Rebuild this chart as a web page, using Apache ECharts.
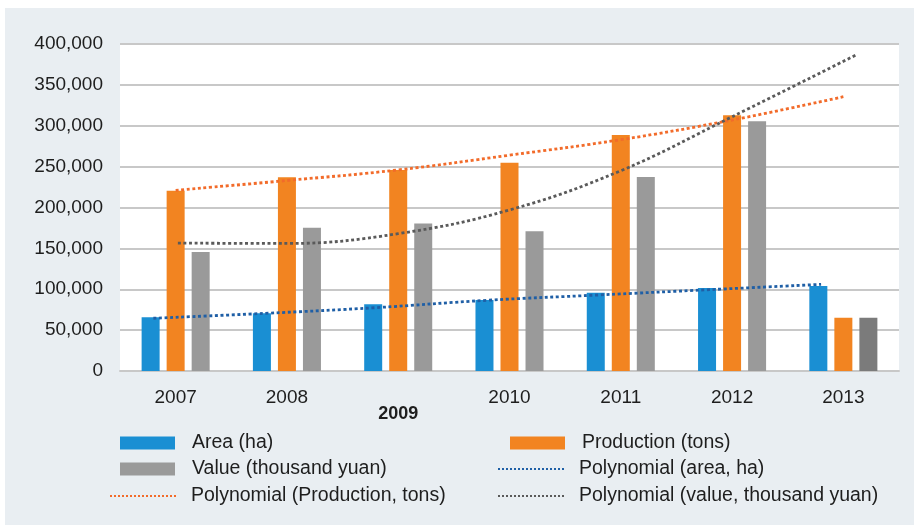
<!DOCTYPE html>
<html>
<head>
<meta charset="utf-8">
<script src="https://cdn.jsdelivr.net/npm/echarts@6/dist/echarts.min.js"></script>
<style>
  html, body { margin: 0; padding: 0; background: #ffffff; }
  #chart { width: 914px; height: 525px; }
</style>
</head>
<body>
<div id="chart"></div>
<script>
// Yearly categories
const years = ['2007', '2008', '2009', '2010', '2011', '2012', '2013'];

// Bar series
const areaHa = [65600, 70500, 81500, 86800, 95800, 101500, 104000];
const productionTons = [220600, 237000, 245900, 254800, 288700, 312800, 65200];
const valueThousandYuan = [145500, 175200, 180500, 170900, 237300, 305400, 65200];

// Polynomial trend lines (x in category index units, y in the same units as the bars)
const areaTrendX = [-0.2, 0.8, 1.8, 2.8, 3.8, 4.8, 5.8];
const areaTrend = [64500, 70500, 77500, 86500, 93000, 99500, 106000];
const productionTrendX = [0, 1, 2, 3, 4, 5, 6];
const productionTrend = [221000, 233000, 246000, 264000, 283000, 307000, 335500];
const valueTrendX = [0.02, 1, 2, 3, 4, 5, 6.12];
const valueTrend = [156500, 156000, 168000, 197000, 245000, 311000, 387000];

// Y-axis ticks
const yTicks = [0, 50000, 100000, 150000, 200000, 250000, 300000, 350000, 400000];

const names = {
  area: 'Area (ha)',
  production: 'Production (tons)',
  value: 'Value (thousand yuan)',
  areaTrend: 'Polynomial (area, ha)',
  productionTrend: 'Polynomial (Production, tons)',
  valueTrend: 'Polynomial (value, thousand yuan)'
};

const FONT = '"Liberation Sans", Arial, Helvetica, sans-serif';
const TEXT = '#1e1e1e';
const zip = (xs, ys) => xs.map((x, i) => [x, ys[i]]);

const dotted = (color) => ({ color: color, width: 2.8, type: [3, 2.6], cap: 'butt' });

// One legend block per entry so each can sit in its own slot
function legendItem(name, left, top, isLine) {
  const item = {
    data: [name],
    left: left,
    top: top,
    padding: 0,
    orient: 'horizontal',
    selectedMode: false,
    itemWidth: isLine ? 66 : 55,
    itemHeight: 13,
    textStyle: { fontFamily: FONT, fontSize: 19.5, color: TEXT, padding: [0, 0, 0, isLine ? 10 : 12] }
  };
  if (isLine) {
    item.itemStyle = { opacity: 0 };
    item.lineStyle = { width: 2, type: [2, 2] };
  } else {
    item.icon = 'rect';
  }
  return item;
}

const chart = echarts.init(document.getElementById('chart'), null, { renderer: 'canvas' });

chart.setOption({
  animation: false,
  backgroundColor: '#ffffff',
  graphic: [{
    type: 'rect', left: 5, top: 8, z: -10,
    shape: { width: 909, height: 517 },
    style: { fill: '#E9EEF2' }
  }],
  grid: {
    left: 120, right: 15, top: 44, bottom: 154,
    show: true, backgroundColor: '#ffffff', borderWidth: 0
  },
  legend: [
    legendItem(names.area, 120, 433, false),
    legendItem(names.value, 120, 459, false),
    legendItem(names.productionTrend, 109, 486, true),
    legendItem(names.production, 510, 433, false),
    legendItem(names.areaTrend, 497, 459, true),
    legendItem(names.valueTrend, 497, 486, true)
  ],
  xAxis: [{
    type: 'category',
    data: years,
    axisLine: { show: true, lineStyle: { color: '#c8c8c8', width: 2 } },
    axisTick: { show: false },
    axisLabel: {
      margin: 17,
      fontFamily: FONT, fontSize: 19, color: TEXT,
      formatter: (v) => v === '2009' ? '{b|' + v + '}' : v,
      rich: { b: { fontFamily: FONT, fontSize: 18, fontWeight: 'bold', color: TEXT, padding: [17, 0, 0, 0] } }
    }
  }, {
    type: 'value', min: -0.5, max: 6.5, show: false
  }],
  yAxis: {
    type: 'value',
    min: yTicks[0],
    max: yTicks[yTicks.length - 1],
    interval: yTicks[1] - yTicks[0],
    axisLine: { show: false },
    axisTick: { show: false },
    splitLine: { lineStyle: { color: '#c8c8c8', width: 2 } },
    axisLabel: {
      margin: 17,
      fontFamily: FONT, fontSize: 19, color: TEXT,
      formatter: (v) => v.toLocaleString('en-US')
    }
  },
  series: [
    {
      name: names.area, type: 'bar', data: areaHa,
      barWidth: 18, barGap: '39%',
      itemStyle: { color: '#1A8FD3' }
    },
    {
      name: names.production, type: 'bar', data: productionTons,
      barWidth: 18, barGap: '39%',
      itemStyle: { color: '#F28421' }
    },
    {
      name: names.value, type: 'bar',
      data: valueThousandYuan.map((v, i) => i === years.length - 1
        ? { value: v, itemStyle: { color: '#7B7B7B' } } : v),
      barWidth: 18, barGap: '39%',
      itemStyle: { color: '#9A9A9A' }
    },
    {
      name: names.areaTrend, type: 'line', xAxisIndex: 1,
      data: zip(areaTrendX, areaTrend), smooth: 0.4, symbol: 'none',
      lineStyle: dotted('#1F5FA6'), itemStyle: { color: '#1F5FA6' }, z: 5
    },
    {
      name: names.productionTrend, type: 'line', xAxisIndex: 1,
      data: zip(productionTrendX, productionTrend), smooth: 0.4, symbol: 'none',
      lineStyle: dotted('#F26B2A'), itemStyle: { color: '#F26B2A' }, z: 5
    },
    {
      name: names.valueTrend, type: 'line', xAxisIndex: 1,
      data: zip(valueTrendX, valueTrend), smooth: 0.4, symbol: 'none',
      lineStyle: dotted('#5A5A5A'), itemStyle: { color: '#5A5A5A' }, z: 5
    }
  ]
});
</script>
</body>
</html>
